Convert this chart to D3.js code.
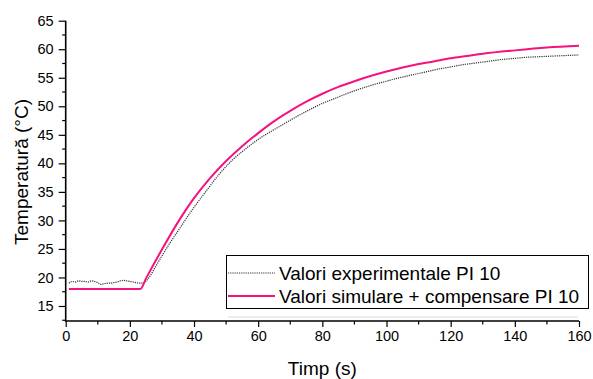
<!DOCTYPE html>
<html>
<head>
<meta charset="utf-8">
<script src="https://cdn.jsdelivr.net/npm/d3@7"></script>
<style>
  html, body { margin: 0; padding: 0; background: #fff; }
  svg { display: block; font-family: "Liberation Sans", Arial, sans-serif; }
</style>
</head>
<body>
<svg id="chart" width="593" height="379"></svg>
<script>
// Measured temperature (PI 10), time in seconds
const expTime = [1, 2, 3, 4, 5, 6, 7, 8, 9, 10, 11, 12, 13, 14, 15, 16, 17, 18, 19, 20, 21, 22, 23,
  24, 26, 28, 32, 36, 40, 44, 48, 52, 56, 60, 64, 68, 72, 76, 80, 84, 88, 92, 96, 100,
  104, 108, 112, 116, 120, 124, 128, 132, 136, 140, 144, 148, 152, 156, 160];
const expTemp = [19.0, 19.3, 19.2, 19.4, 19.3, 19.3, 19.2, 19.4, 19.3, 19.1, 18.8, 18.9, 19.0, 19.0, 19.1, 19.2, 19.4, 19.5, 19.4, 19.3, 19.2, 19.1, 19.0,
  19.0, 20.0, 21.9, 25.6, 29.0, 32.3, 35.3, 38.2, 40.6, 42.5, 44.2, 45.6, 46.9, 48.2, 49.4, 50.5, 51.4, 52.3, 53.1, 53.8, 54.4,
  55.0, 55.5, 56.0, 56.5, 56.9, 57.3, 57.6, 57.9, 58.2, 58.4, 58.6, 58.7, 58.8, 58.9, 59.0];

// Simulated response with compensation (PI 10)
const simTime = [1, 23.3, 25, 30, 35, 40, 45, 50, 55, 60, 65, 70, 75, 80, 85, 90, 95, 100,
  105, 110, 115, 120, 125, 130, 140, 150, 160];
const simTemp = [18.0, 18.0, 19.8, 24.9, 29.7, 33.9, 37.4, 40.4, 43.0, 45.3, 47.4, 49.2, 50.8, 52.2, 53.4, 54.4, 55.3, 56.1,
  56.8, 57.4, 57.9, 58.4, 58.8, 59.2, 59.8, 60.3, 60.6];

const xTicks = [0, 20, 40, 60, 80, 100, 120, 140, 160];
const yTicks = [15, 20, 25, 30, 35, 40, 45, 50, 55, 60, 65];
const legendLabels = ["Valori experimentale PI 10", "Valori simulare + compensare PI 10"];

const svg = d3.select("#chart");
const plot = { left: 65.7, right: 579, top: 20.7, bottom: 321 };

const x = d3.scaleLinear().domain([0, 160]).range([plot.left, plot.right]);
const y = d3.scaleLinear().domain([12.37, 65]).range([plot.bottom, plot.top]);

// minor ticks sit halfway between the labelled ones
const xMinor = d3.range(10, 160, 20);
const yMinor = d3.range(12.5, 65, 5);

const gx = svg.append("g").attr("transform", `translate(0,${plot.bottom})`);
gx.call(d3.axisBottom(x).tickValues(xTicks).tickSize(6).tickPadding(4).tickFormat(d3.format("d")));
gx.selectAll(".minor").data(xMinor).enter().append("line")
  .attr("x1", d => x(d)).attr("x2", d => x(d)).attr("y1", 0).attr("y2", 3.5)
  .attr("stroke", "#000").attr("stroke-width", 1.2);

const gy = svg.append("g").attr("transform", `translate(${plot.left},0)`);
gy.call(d3.axisLeft(y).tickValues(yTicks).tickSize(7).tickPadding(5).tickFormat(d3.format("d")));
gy.selectAll(".minor").data(yMinor).enter().append("line")
  .attr("y1", d => y(d)).attr("y2", d => y(d)).attr("x1", 0).attr("x2", -3.5)
  .attr("stroke", "#000").attr("stroke-width", 1.2);

[gx, gy].forEach(g => {
  g.attr("font-size", null).attr("font-family", null);
  g.selectAll("text").attr("font-size", 14.5).attr("fill", "#000");
  g.selectAll(".tick line").attr("stroke", "#000").attr("stroke-width", 1.2);
  g.select(".domain").attr("stroke", "#000").attr("stroke-width", 1.6);
});
// axis lines drawn plainly so they meet at the origin corner
gx.select(".domain").attr("d", `M${plot.left - 0.8},0H${plot.right}`);
gy.select(".domain").attr("d", `M0,${plot.top}V${plot.bottom}`);

// axis titles
svg.append("text").attr("x", (plot.left + plot.right) / 2).attr("y", 375)
  .attr("text-anchor", "middle").attr("font-size", 19).text("Timp (s)");
svg.append("text").attr("transform", `translate(28,172) rotate(-90)`)
  .attr("text-anchor", "middle").attr("font-size", 19).text("Temperatură (°C)");

// series
const expLine = d3.line().x((d, i) => x(expTime[i])).y(d => y(d)).curve(d3.curveMonotoneX);
const simLine = d3.line().x((d, i) => x(simTime[i])).y(d => y(d)).curve(d3.curveMonotoneX);

svg.append("path").attr("d", expLine(expTemp)).attr("fill", "none")
  .attr("stroke", "#333").attr("stroke-width", 1.2).attr("stroke-dasharray", "1.2,1");
svg.append("path").attr("d", simLine(simTemp)).attr("fill", "none")
  .attr("stroke", "#f5127d").attr("stroke-width", 2);

// legend
const lg = svg.append("g");
lg.append("line").attr("x1", 228).attr("x2", 578).attr("y1", 317).attr("y2", 317)
  .attr("stroke", "#e6e6e6").attr("stroke-width", 1.5);
lg.append("rect").attr("x", 226.5).attr("y", 255.5).attr("width", 362).attr("height", 53)
  .attr("fill", "#fff").attr("stroke", "#000").attr("stroke-width", 1);
const rows = [
  { y: 273, stroke: "#333", width: 1.2, dash: "1.2,1" },
  { y: 296, stroke: "#f5127d", width: 2, dash: null }
];
rows.forEach((r, i) => {
  lg.append("line").attr("x1", 228).attr("x2", 275).attr("y1", r.y).attr("y2", r.y)
    .attr("stroke", r.stroke).attr("stroke-width", r.width).attr("stroke-dasharray", r.dash);
  lg.append("text").attr("x", 279).attr("y", r.y + 7).attr("font-size", 19)
    .text(legendLabels[i]);
});
</script>
</body>
</html>
